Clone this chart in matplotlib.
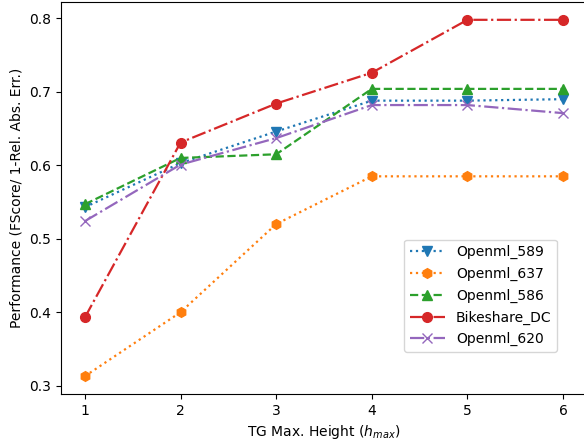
import matplotlib
matplotlib.use("Agg")
import matplotlib.pyplot as plt

heights = [1, 2, 3, 4, 5, 6]
openml_589 = [0.543, 0.603, 0.646, 0.688, 0.688, 0.690]
openml_637 = [0.313, 0.400, 0.520, 0.585, 0.585, 0.585]
openml_586 = [0.547, 0.610, 0.615, 0.704, 0.704, 0.704]
bikeshare_dc = [0.393, 0.631, 0.684, 0.726, 0.798, 0.798]
openml_620 = [0.524, 0.601, 0.637, 0.682, 0.682, 0.671]

fig = plt.figure(figsize=(5.84, 4.44), dpi=100)
ax = fig.add_axes([61/584, 50/444, 526/584, 392/444])
lw = 1.6
ax.plot(heights, openml_589, linestyle=':', marker='v', color='tab:blue', label='Openml_589', markersize=7, lw=lw)
ax.plot(heights, openml_637, linestyle=':', marker='h', color='tab:orange', label='Openml_637', markersize=7, lw=lw)
ax.plot(heights, openml_586, linestyle='--', marker='^', color='tab:green', label='Openml_586', markersize=7, lw=lw)
ax.plot(heights, bikeshare_dc, linestyle='-.', marker='o', color='tab:red', label='Bikeshare_DC', markersize=7, lw=lw)
ax.plot(heights, openml_620, linestyle='-.', marker='x', color='tab:purple', label='Openml_620', markersize=7, lw=lw)

ax.set_xlabel('TG Max. Height ($h_{max}$)')
ax.set_ylabel('Performance (FScore/ 1-Rel. Abs. Err.)')
ax.set_xticks(heights)
ax.set_yticks([0.3, 0.4, 0.5, 0.6, 0.7, 0.8])
ax.legend(loc='lower right', bbox_to_anchor=((557-61)/526, (394-352)/392), borderaxespad=0,
          handlelength=2.5, labelspacing=0.55)
fig.savefig('out.png', dpi=100)
